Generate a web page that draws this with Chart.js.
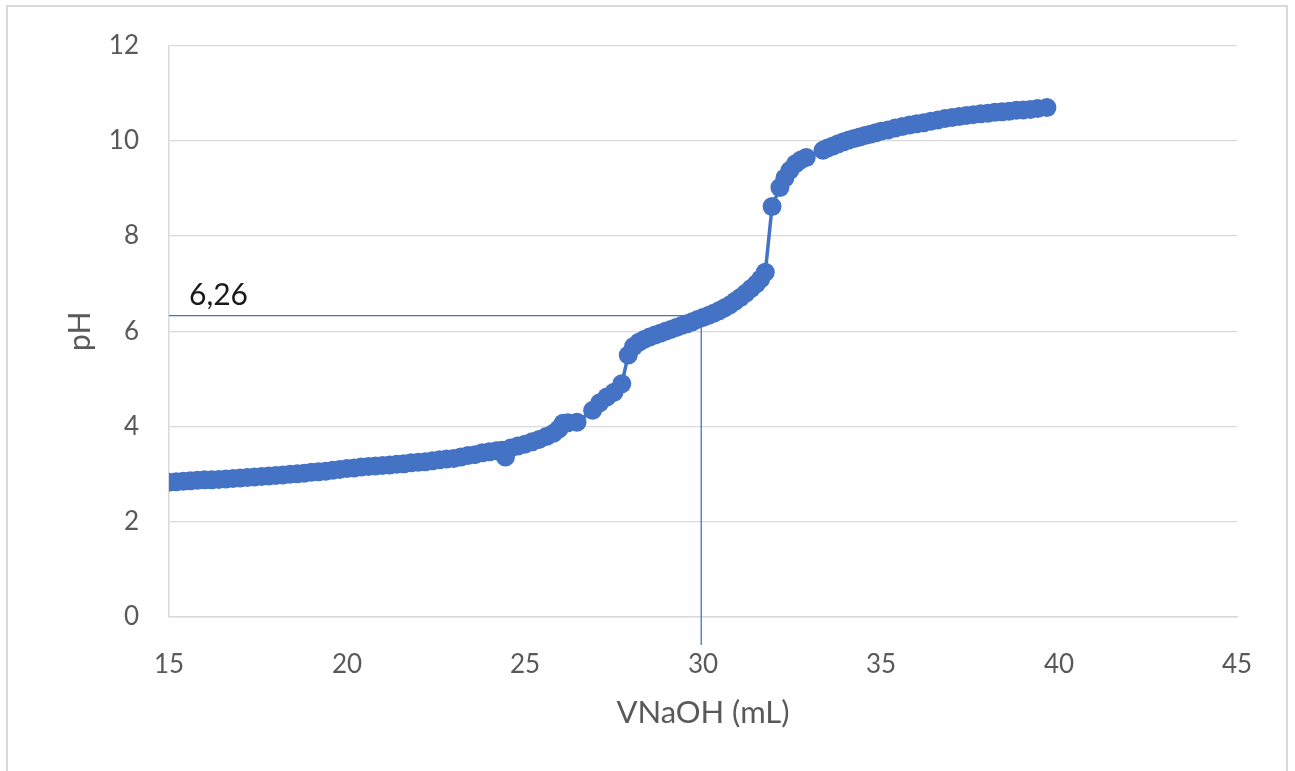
<!DOCTYPE html>
<html>
<head>
<meta charset="utf-8">
<script src="https://cdn.jsdelivr.net/npm/chart.js@4.4.0/dist/chart.umd.min.js"></script>
<style>
html,body{margin:0;padding:0;background:#fff;}
#wrap{position:relative;width:1295px;height:771px;}
</style>
</head>
<body>
<div id="wrap"><canvas id="c" width="1295" height="771"></canvas></div>
<script>
const volumes = [15.0,15.2,15.4,15.6,15.8,16.0,16.2,16.4,16.6,16.8,17.0,17.2,17.4,17.6,17.8,18.0,18.2,18.4,18.6,18.8,19.0,19.2,19.4,19.6,19.8,20.0,20.2,20.4,20.6,20.8,21.0,21.2,21.4,21.6,21.8,22.0,22.2,22.4,22.6,22.8,23.0,23.2,23.4,23.6,23.8,24.0,24.2,24.35,24.45,24.6,24.8,25.0,25.2,25.4,25.6,25.8,25.95,26.07,26.2,26.46,26.9,27.1,27.3,27.5,27.72,27.9,28.05,28.2,28.35,28.5,28.65,28.8,28.95,29.1,29.25,29.4,29.55,29.7,29.85,30.0,30.15,30.3,30.45,30.6,30.75,30.9,31.05,31.2,31.35,31.5,31.62,31.75,31.94,32.16,32.3,32.44,32.6,32.75,32.9,33.37,33.5,33.65,33.8,33.95,34.1,34.25,34.4,34.55,34.7,34.85,35.0,35.2,35.4,35.6,35.8,36.0,36.2,36.4,36.6,36.8,37.0,37.2,37.4,37.6,37.8,38.0,38.2,38.4,38.6,38.8,39.0,39.2,39.4,39.66];
const phValues = [2.83,2.84,2.85,2.86,2.87,2.88,2.88,2.89,2.90,2.91,2.92,2.93,2.94,2.95,2.96,2.97,2.98,3.00,3.01,3.02,3.04,3.05,3.06,3.08,3.10,3.12,3.13,3.15,3.16,3.17,3.18,3.19,3.21,3.22,3.24,3.25,3.26,3.28,3.30,3.32,3.33,3.36,3.39,3.41,3.45,3.47,3.49,3.50,3.36,3.55,3.59,3.63,3.68,3.73,3.79,3.86,3.95,4.07,4.08,4.09,4.34,4.50,4.62,4.72,4.90,5.50,5.68,5.77,5.83,5.88,5.92,5.96,6.00,6.04,6.08,6.12,6.16,6.20,6.25,6.29,6.33,6.38,6.43,6.49,6.55,6.63,6.71,6.80,6.90,7.00,7.10,7.24,8.62,9.02,9.22,9.38,9.52,9.60,9.65,9.80,9.85,9.89,9.94,9.98,10.02,10.05,10.08,10.11,10.14,10.17,10.20,10.23,10.27,10.30,10.33,10.36,10.38,10.41,10.44,10.47,10.49,10.51,10.53,10.55,10.57,10.58,10.60,10.61,10.62,10.64,10.65,10.66,10.68,10.70];
const xTicks = [15,20,25,30,35,40,45];
const yTicks = [0,2,4,6,8,10,12];
const refX = 29.95;
const refY = 6.33;
const refLabel = "6,26";
const xTitle = "VNaOH (mL)";
const yTitle = "pH";

const points = volumes.map((v,i)=>({x:v,y:phValues[i]}));
const BLUE = "#4472C4";
const FONT = "Lato, 'Open Sans', sans-serif";

const frame = {
  id:'frame',
  beforeDraw(chart){
    const ctx = chart.ctx;
    ctx.save();
    ctx.fillStyle = '#fff';
    ctx.fillRect(0,0,chart.width,chart.height);
    ctx.strokeStyle = '#d9d9d9';
    ctx.lineWidth = 2;
    ctx.strokeRect(7,6,1280,780);
    ctx.restore();
  }
};
const refLines = {
  id:'refLines',
  beforeDatasetsDraw(chart){
    const {ctx, scales:{x,y}} = chart;
    const px = x.getPixelForValue(refX);
    const py = y.getPixelForValue(refY);
    ctx.save();
    ctx.strokeStyle = BLUE;
    ctx.lineWidth = 1.3;
    ctx.beginPath();
    ctx.moveTo(x.left, py);
    ctx.lineTo(px, py);
    ctx.moveTo(px, py);
    ctx.lineTo(px, y.bottom + 28);
    ctx.stroke();
    ctx.fillStyle = '#1a1a1a';
    ctx.font = "30px " + FONT;
    ctx.textAlign = 'left';
    ctx.textBaseline = 'alphabetic';
    ctx.fillText(refLabel, x.left + 20, py - 11);
    ctx.restore();
  }
};

new Chart(document.getElementById('c'), {
  type:'scatter',
  data:{datasets:[{
    data:points,
    showLine:true,
    borderColor:BLUE,
    backgroundColor:BLUE,
    borderWidth:3.5,
    pointRadius:9.5,
    pointHoverRadius:9.5,
    pointBorderWidth:0
  }]},
  options:{
    responsive:false,
    animation:false,
    devicePixelRatio:1,
    layout:{padding:{left:0,top:45,right:58,bottom:0}},
    plugins:{legend:{display:false},tooltip:{enabled:false}},
    scales:{
      x:{
        type:'linear', min:15, max:45,
        afterBuildTicks(s){ s.ticks = xTicks.map(v=>({value:v})); },
        afterFit(s){ s.height = 154; },
        grid:{display:false, drawTicks:false},
        border:{display:true,color:'#d9d9d9',width:1.5},
        ticks:{color:'#595959',font:{family:FONT,size:26},padding:32,maxRotation:0},
        title:{display:true,text:xTitle,color:'#595959',font:{family:FONT,size:31},padding:{top:0,bottom:39}}
      },
      y:{
        type:'linear', min:0, max:12,
        afterBuildTicks(s){ s.ticks = yTicks.map(v=>({value:v})); },
        afterFit(s){ s.width = 169; },
        grid:{color:'#d9d9d9',lineWidth:1.3,drawTicks:false},
        border:{display:true,color:'#d9d9d9',width:1.5},
        ticks:{color:'#595959',font:{family:FONT,size:26},padding:30},
        title:{display:true,text:yTitle,color:'#595959',font:{family:FONT,size:30},padding:{top:62,bottom:0}}
      }
    }
  },
  plugins:[frame,refLines]
});
</script>
</body>
</html>
